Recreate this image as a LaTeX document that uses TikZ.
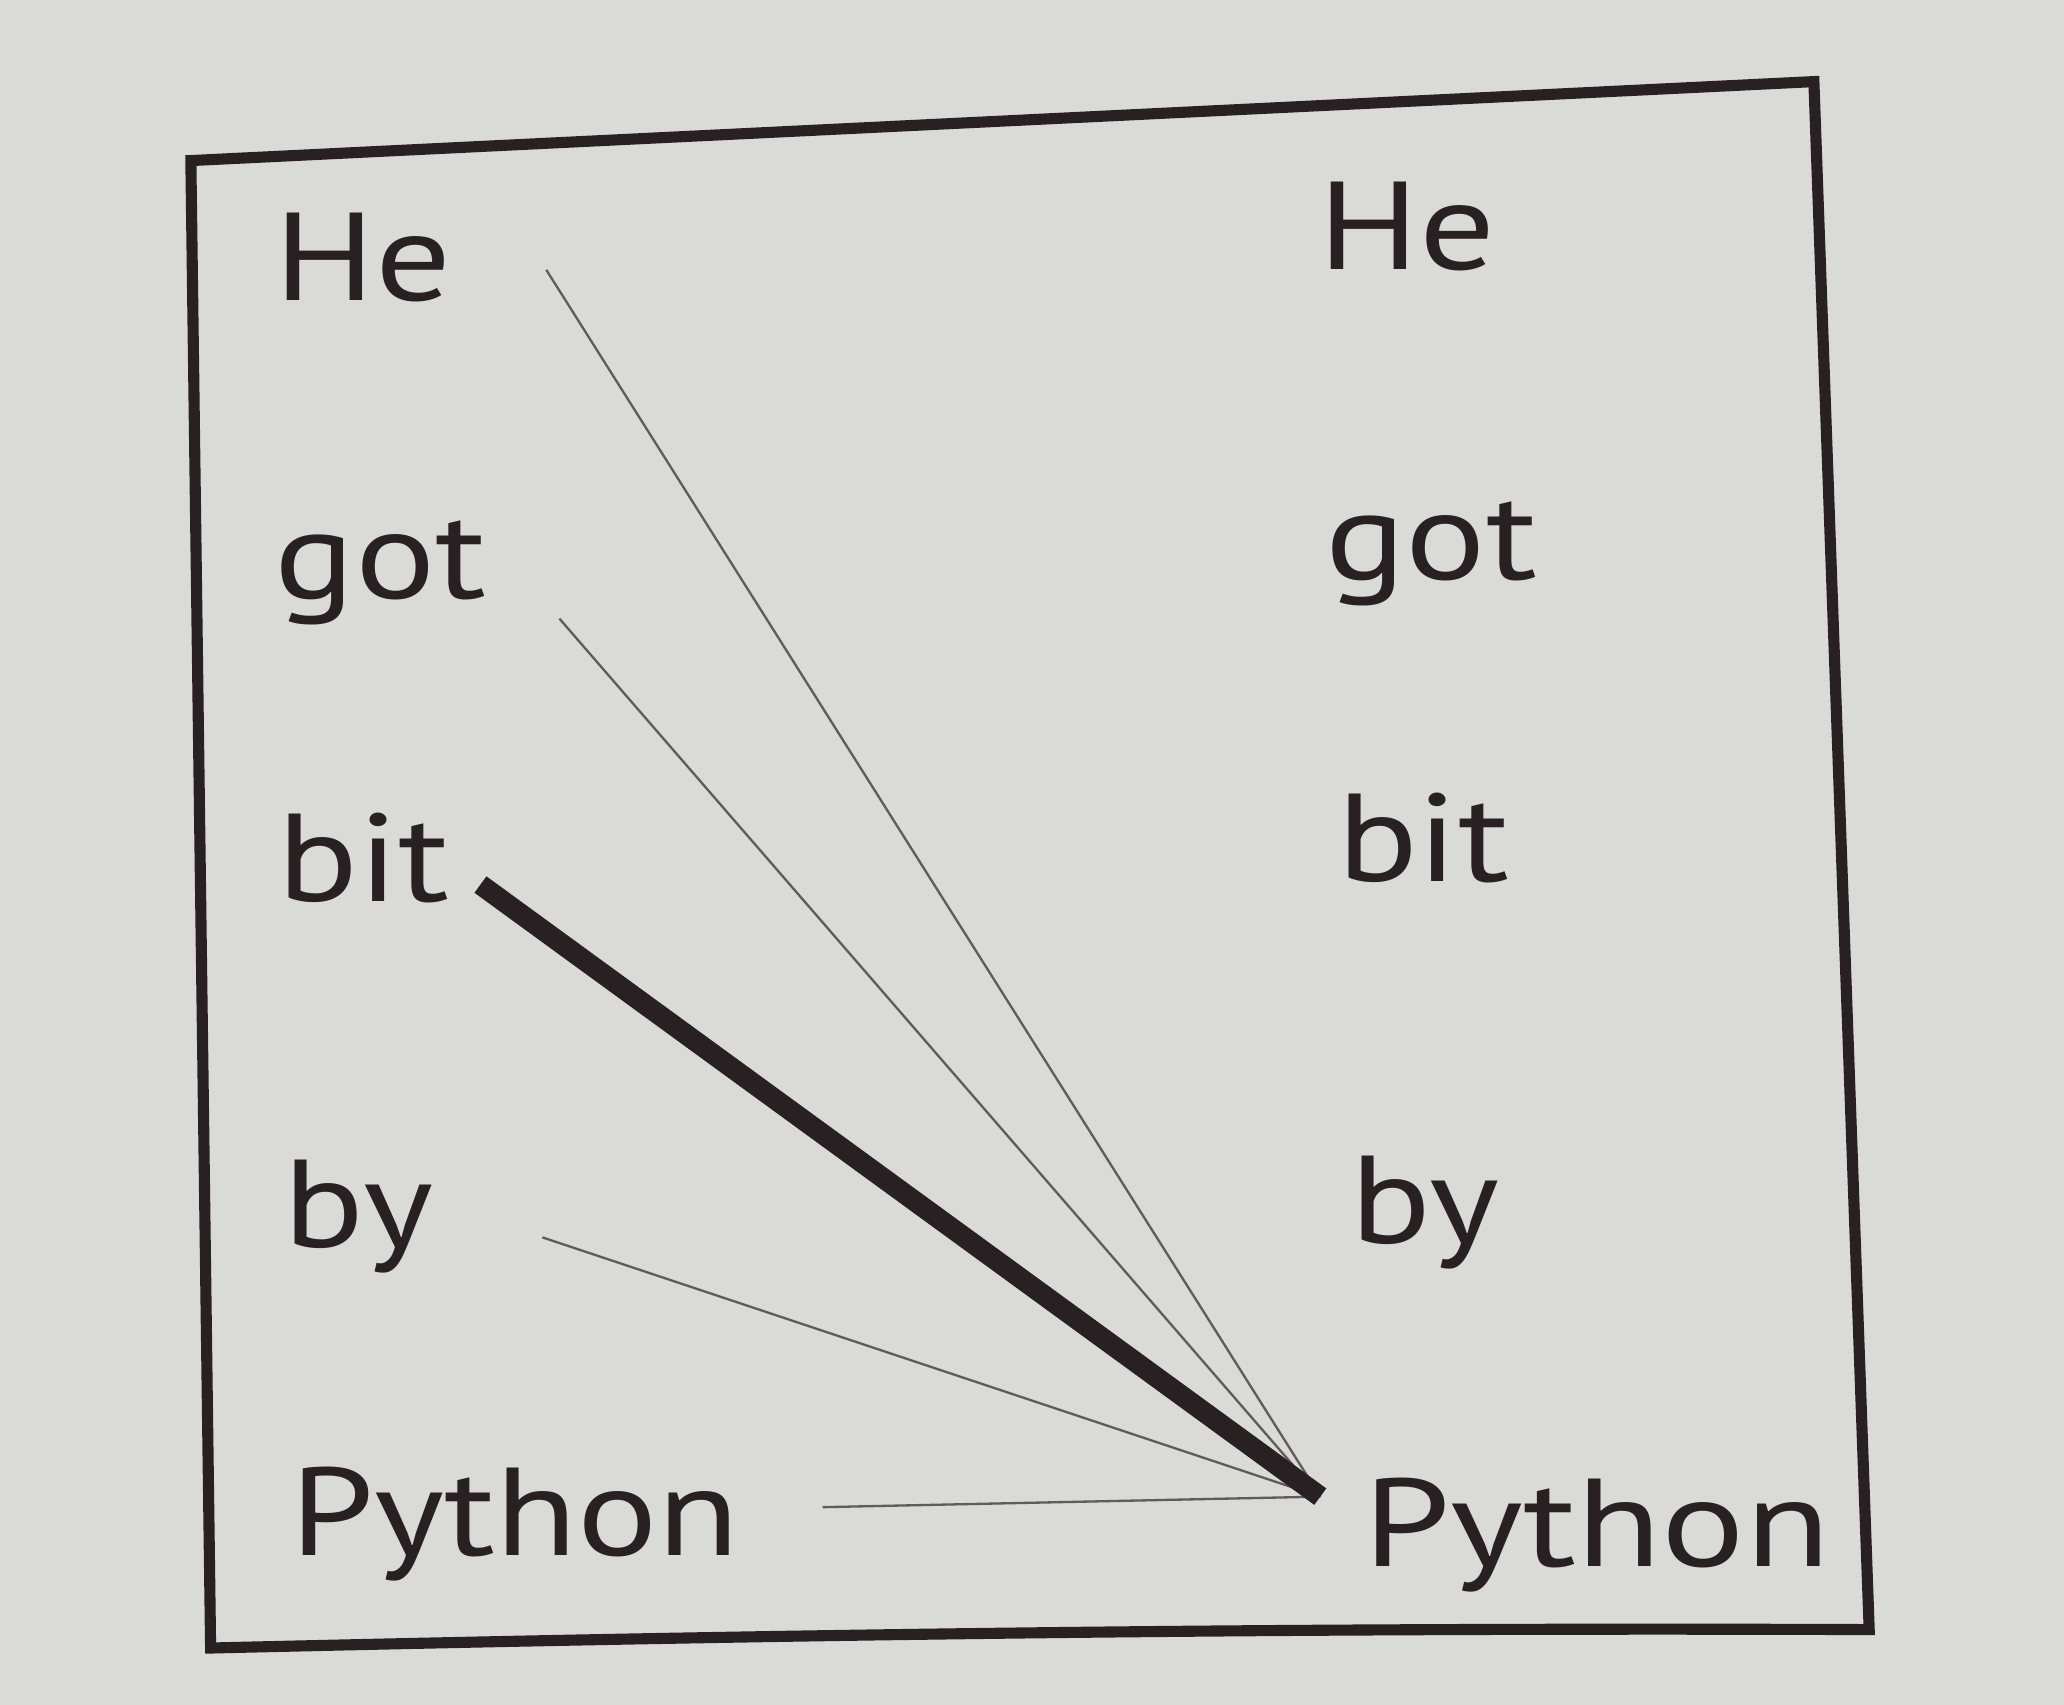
\documentclass[tikz,border=0pt]{standalone}
\usepackage{fontspec}
\setmainfont[FakeStretch=1.2]{PT Sans}
\definecolor{paper}{RGB}{218,218,214}
\definecolor{ink}{RGB}{40,32,34}
\definecolor{linegray}{RGB}{95,92,92}
\begin{document}
\begin{tikzpicture}[x=0.01cm,y=-0.01cm,
  word/.style={anchor=base west, inner sep=0pt, font=\fontsize{27}{30}\selectfont, text=ink},
  thinlink/.style={draw=linegray, line width=0.5pt},
  boldlink/.style={draw=ink, line width=4.4pt, line cap=butt},
  framebox/.style={draw=ink, line width=2.4pt, line join=miter}]
\fill[paper] (0,0) rectangle (1568,1295);
\useasboundingbox (0,0) rectangle (1568,1295);
% frame
\draw[framebox] (145,122) -- (1378,62) -- (1420,1238) .. controls (900,1236) and (500,1244) .. (160,1252) -- cycle;
% left words
\node[word] (lHe) at (208,228) {He};
\node[word] (lgot) at (208,455) {got};
\node[word] (lbit) at (210,685) {bit};
\node[word] (lby) at (215,948) {by};
\node[word] (lPy) at (220,1182) {Python};
% right words
\node[word] (rHe) at (1001,205) {He};
\node[word] (rgot) at (1006,440) {got};
\node[word] (rbit) at (1015,670) {bit};
\node[word] (rby) at (1025,945) {by};
\node[word, xscale=1.04] (rPy) at (1035,1190) {Python};
% connector ends
\coordinate (sHe) at (415,205);
\coordinate (sgot) at (425,470);
\coordinate (sbit) at (365,672);
\coordinate (sby) at (412,940);
\coordinate (sPy) at (625,1145);
\coordinate (focus) at (1003,1137);
\draw[thinlink] (sHe) -- (focus);
\draw[thinlink] (sgot) -- (focus);
\draw[thinlink] (sby) -- (focus);
\draw[thinlink] (sPy) -- (focus);
\draw[boldlink] (sbit) -- (focus);
\end{tikzpicture}
\end{document}
